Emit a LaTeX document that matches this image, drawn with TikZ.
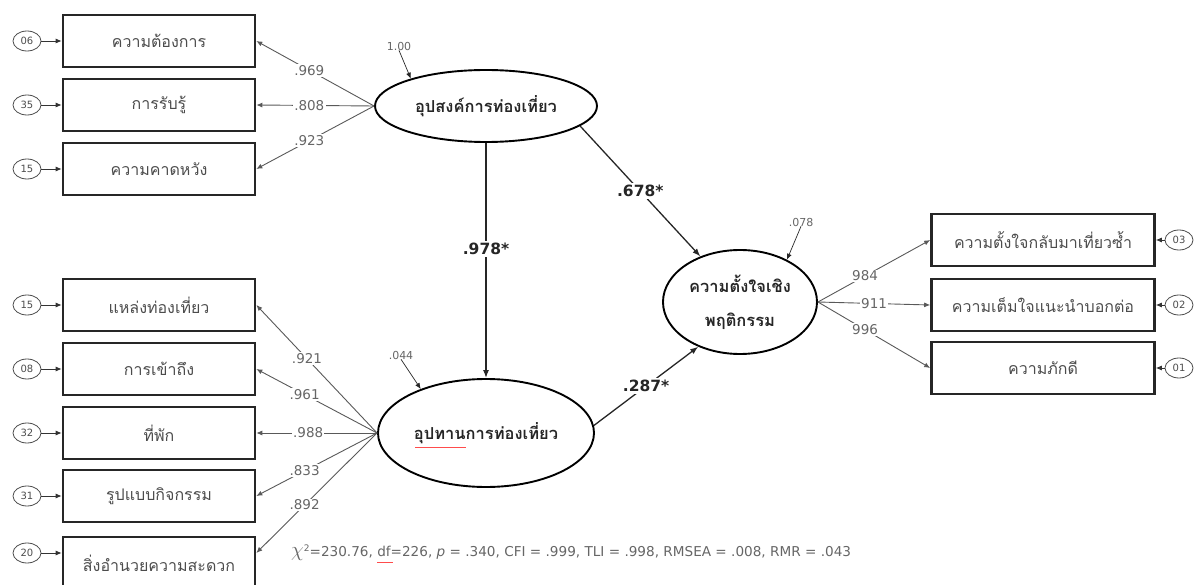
\documentclass[tikz,border=0pt]{standalone}
\usepackage{fontspec}
\setmainfont{DejaVu Sans}
\newfontfamily\thaifont[Script=Thai]{Loma}
\usetikzlibrary{arrows.meta,shapes.geometric}
\begin{document}
\begin{tikzpicture}[x=1pt,y=-1pt,
 obs/.style={draw=black!85, line width=2.6pt, minimum width=192pt, minimum height=52pt, inner sep=0pt, font=\thaifont\fontsize{16}{18}\selectfont, text=black!70},
 lat/.style={draw=black, ellipse, line width=1.9pt, inner sep=0pt, font=\thaifont\bfseries\fontsize{16.5}{34}\selectfont, text=black!85, align=center},
 err/.style={draw=black!70, ellipse, line width=0.8pt, minimum width=28pt, minimum height=20pt, inner sep=0pt, font=\fontsize{10}{11}\selectfont, text=black!70},
 ar/.style={-{Latex[length=6pt,width=5pt]}, line width=0.9pt, draw=black!65},
 sp/.style={-{Latex[length=8pt,width=6pt]}, line width=1.3pt, draw=black!85},
 lo/.style={fill=white, inner sep=1.2pt, font=\fontsize{13.5}{14}\selectfont, text=black!60},
 pa/.style={fill=white, inner sep=2pt, font=\bfseries\fontsize{15.5}{17}\selectfont, text=black!85},
 sm/.style={inner sep=0pt, font=\fontsize{11}{12}\selectfont, text=black!60}]
\useasboundingbox (0,0) rectangle (1200,585);
\clip (0,0) rectangle (1200,585);

% latent variables
\node[lat, minimum width=222pt, minimum height=72pt] (e1) at (486,106) {อุปสงค์การท่องเที่ยว};
\node[lat, minimum width=216pt, minimum height=108pt] (e2) at (486,433) {อุปทานการท่องเที่ยว};
\node[lat, minimum width=154pt, minimum height=104pt] (e3) at (740,302) {ความตั้งใจเชิง\\พฤติกรรม};

% observed, top left
\node[obs] (b1) at (159,41) {ความต้องการ};
\node[obs] (b2) at (159,105) {การรับรู้};
\node[obs] (b3) at (159,169) {ความคาดหวัง};
% observed, bottom left
\node[obs] (b4) at (159,305) {แหล่งท่องเที่ยว};
\node[obs] (b5) at (159,369) {การเข้าถึง};
\node[obs] (b6) at (159,433) {ที่พัก};
\node[obs] (b7) at (159,496) {รูปแบบกิจกรรม};
\node[obs] (b8) at (159,563) {สิ่งอำนวยความสะดวก};
% observed, right
\node[obs, minimum width=223pt] (r1) at (1043,240) {ความตั้งใจกลับมาเที่ยวซ้ำ};
\node[obs, minimum width=223pt] (r2) at (1043,305) {ความเต็มใจแนะนำบอกต่อ};
\node[obs, minimum width=223pt] (r3) at (1043,368) {ความภักดี};

% error terms
\node[err] (u1) at (27,41) {06};
\node[err] (u2) at (27,105) {35};
\node[err] (u3) at (27,169) {15};
\node[err] (u4) at (27,305) {15};
\node[err] (u5) at (27,369) {08};
\node[err] (u6) at (27,433) {32};
\node[err] (u7) at (27,496) {31};
\node[err] (u8) at (27,553) {20};
\node[err] (v1) at (1179,240) {03};
\node[err] (v2) at (1179,305) {02};
\node[err] (v3) at (1179,368) {01};

\foreach \u/\b in {u1/b1,u2/b2,u3/b3,u4/b4,u5/b5,u6/b6,u7/b7}
  \draw[ar, draw=black!80] (\u) -- (\b.west |- \u);
\draw[ar, draw=black!80] (u8) -- (b8.west |- u8);
\foreach \v/\b in {v1/r1,v2/r2,v3/r3}
  \draw[ar, draw=black!80] (\v) -- (\b.east |- \v);

% loadings, top left
\draw[ar] (e1.west) -- node[lo, pos=0.55] {.969} (b1.east);
\draw[ar] (e1.west) -- node[lo, pos=0.55] {.808} (b2.east);
\draw[ar] (e1.west) -- node[lo, pos=0.55] {.923} (b3.east);
% loadings, bottom left
\draw[ar] (e2.west) -- node[lo, pos=0.58] {.921} (b4.east);
\draw[ar] (e2.west) -- node[lo, pos=0.6] {.961} (b5.east);
\draw[ar] (e2.west) -- node[lo, pos=0.57] {.988} (b6.east);
\draw[ar] (e2.west) -- node[lo, pos=0.6] {.833} (b7.east);
\draw[ar] (e2.west) -- node[lo, pos=0.6] {.892} ([yshift=10pt]b8.east);
% loadings, right
\draw[ar] (e3.east) -- node[lo, pos=0.42] {984} (r1.west);
\draw[ar] (e3.east) -- node[lo, pos=0.5] {911} (r2.west);
\draw[ar] (e3.east) -- node[lo, pos=0.42] {996} (r3.west);

% structural paths
\draw[sp] (e1.south) -- node[pa, pos=0.45] {.978*} (e2.north);
\draw[sp] (e1.-12) -- node[pa] {.678*} (e3.131);
\draw[sp] (e2.4) -- node[pa] {.287*} (e3.227);

% disturbances
\node[sm] (d1) at (399,46) {1.00};
\draw[ar, draw=black!85, line width=0.7pt] (d1.south) -- (e1.160);
\node[sm] (d2) at (401,355) {.044};
\draw[ar, draw=black!85, line width=0.7pt] (d2.south) -- (e2.146);
\node[sm] (d3) at (801,222) {.078};
\draw[ar, draw=black!85, line width=0.7pt] (d3.south) -- (e3.42);

% fit statistics
\node[anchor=west, inner sep=0pt, text=black!60, font=\fontsize{13.6}{15}\selectfont] (fit) at (291,553)
  {{\fontsize{21}{21}\selectfont$\chi$}\raisebox{5pt}{\fontsize{9}{9}\selectfont 2}=230.76, df=226, \textit{p} = .340, CFI = .999, TLI = .998, RMSEA = .008, RMR = .043};
% spell-check underlines
\draw[red!70, line width=0.7pt] (377,562) -- (393,562);
\draw[red!70, line width=0.7pt] (415,447) -- (466,447);
\end{tikzpicture}
\end{document}
